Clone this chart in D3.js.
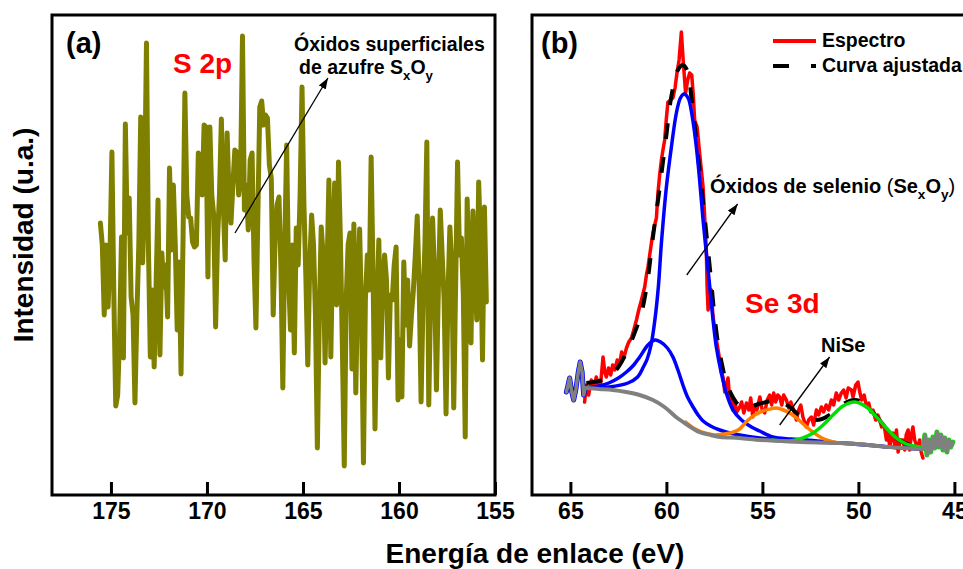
<!DOCTYPE html>
<html>
<head>
<meta charset="utf-8">
<script src="https://cdn.jsdelivr.net/npm/d3@7"></script>
<style>
  body { margin: 0; background: #fff; }
  text { font-family: "Liberation Sans", Arial, sans-serif; font-weight: bold; }
</style>
</head>
<body>
<svg id="chart" width="963" height="569"></svg>
<script>
// ---- data: (a) S 2p, constant energy step ----
var s2pStart = 175.55, s2pStep = 0.1;
var s2pCounts = [
  272,250,180,250,188,240,343,200,89,100,
  160,258,137,371,262,297,198,180,92,180,
  250,378,232,300,452,250,138,205,128,210,
  295,140,242,208,230,178,327,245,310,250,
  165,233,121,250,402,300,278,277,253,248,
  250,342,338,300,370,368,218,368,300,280,
  168,255,300,376,290,235,362,300,272,310,
  345,343,300,318,459,285,310,265,335,342,
  235,167,280,388,394,370,380,377,330,317,
  180,258,290,298,228,107,250,350,218,165,
  250,142,267,230,300,408,290,218,130,230,
  280,250,180,47,180,268,240,132,220,315,
  138,250,312,190,333,255,150,29,195,250,
  262,126,271,102,210,266,180,32,195,240,
  205,338,220,66,180,255,137,210,240,215,
  117,200,195,230,248,95,155,98,233,170,
  215,149,180,205,240,279,210,93,190,250,
  353,90,200,277,220,105,205,285,240,195,
  81,200,268,230,87,210,333,240,257,200,
  58,296,220,152,284,230,175,313,250,135,
  288,193
];
var s2pTicks = [175, 170, 165, 160, 155];

// ---- data: (b) Se 3d ----
var specE = [
  64.26,64.17,64.05,63.91,63.79,63.65,63.53,63.42,63.30,63.21,
  63.13,63.01,62.90,62.80,62.69,62.56,62.43,62.33,62.22,62.08,
  61.96,61.82,61.70,61.56,61.44,61.30,61.21,61.13,61.04,60.96,
  60.87,60.78,60.70,60.61,60.52,60.44,60.35,60.26,60.18,60.09,
  60.00,59.92,59.79,59.66,59.55,59.45,59.34,59.22,59.11,59.00,
  58.89,58.79,58.68,58.60,58.53,58.40,58.27,58.18,58.09,58.01,
  57.92,57.88,57.83,57.75,57.66,57.58,57.48,57.35,57.22,57.14,
  57.05,56.96,56.88,56.79,56.70,56.61,56.53,56.44,56.34,56.18,
  56.08,55.97,55.83,55.71,55.61,55.50,55.40,55.29,55.13,55.01,
  54.88,54.75,54.62,54.52,54.41,54.31,54.20,54.10,53.99,53.89,
  53.75,53.63,53.52,53.41,53.23,53.11,53.00,52.89,52.71,52.59,
  52.45,52.33,52.19,52.07,51.93,51.81,51.68,51.55,51.41,51.29,
  51.15,51.03,50.89,50.77,50.64,50.53,50.36,50.28,50.14,50.02,
  49.93,49.83,49.70,49.58,49.46,49.36,49.24,49.10,48.99,48.89,
  48.79,48.66,48.54,48.45,48.37,48.26,48.20,48.11,48.02,47.93,
  47.82,47.68,47.59,47.51,47.41,47.33,47.24,47.16,47.07,46.98,
  46.90,46.81,46.73,46.64
];
var specV = [
  93,110,100,115,107,118,108,112,138,123,
  118,127,120,130,125,135,132,143,137,147,
  153,157,165,175,185,195,202,208,220,228,
  240,252,262,270,277,302,320,335,345,355,
  377,393,395,397,407,422,435,463,430,402,
  415,422,420,400,375,368,342,325,308,280,
  245,208,185,200,205,180,165,150,135,123,
  118,103,110,117,95,100,85,95,83,88,
  93,82,92,85,97,78,90,85,98,85,
  82,95,100,90,102,93,100,98,90,100,
  95,87,93,87,75,85,90,78,68,75,
  78,70,85,80,88,83,90,85,95,90,
  102,95,102,105,97,107,105,98,110,113,
  103,95,100,88,92,83,85,75,80,75,
  68,70,55,63,48,60,62,50,65,43,
  55,55,45,60,65,45,60,68,55,50,
  48,55,43,37
];
// fitted envelope
var fitE = [64.17,63.5,63.0,62.5,62.0,61.6,61.3,61.0,60.7,60.4,60.2,60.0,59.8,59.6,59.4,59.15,58.9,58.7,58.5,58.3,58.1,57.9,57.7,57.5,57.3,57.1,56.9,56.6,56.3,56.0,55.6,55.2,54.8,54.3,53.9,53.5,53.1,52.7,52.3,51.9,51.5,51.0,50.6,50.2,49.8,49.4,49.0,48.6,48.2,47.8,47.3,46.65];
var fitV = [112,114,118,128,146,165,182,212,258,300,330,360,392,412,425,430,424,398,365,330,295,258,220,180,150,130,114,100,91,87,88,91,93,95,92,87,80,76,75,76,80,88,93,95,93,86,77,68,60,54,50,47];
// component 1 (main oxide peak)
var peak1E = [64.17,63.0,62.0,61.5,61.2,61.0,60.8,60.6,60.42,60.26,60.0,59.74,59.48,59.27,59.08,58.87,58.65,58.44,58.27,58.09,57.92,57.74,57.57,57.40,57.14,56.88,56.53,56.09,55.57,55.14,54.46,53.5,52.71,50.97,48.37,46.65];
var peak1V = [107,108,112,118,128,136,150,175,208,252,308,348,382,397,401,397,378,348,315,275,242,208,175,148,122,102,85,75,68,64,58,56,55,52,48,46];
// component 2 (shoulder)
var peak2E = [64.17,63.5,63.0,62.5,62.08,61.7,61.39,60.96,60.61,60.3,59.95,59.66,59.4,59.14,58.9,58.61,58.35,58.09,57.7,57.22,56.7,56.18,55.14,54.0,52.0,50.0,48.4,46.65];
var peak2V = [107,109,112,117,123,130,138,150,155,153,147,138,125,110,98,88,80,74,69,65,62,60,57,55,53,51,48,46];
// component 3 (NiSe, orange)
var peak3E = [59.0,58.5,58.0,57.5,57.0,56.5,56.18,55.8,55.4,55.0,54.6,54.27,53.9,53.5,53.1,52.7,52.3,51.9,51.5,51.0,50.0,49.0];
var peak3V = [73,66,62,60,61,63,66,74,80,84,86,87,85,81,75,68,62,57,54,52,51,49];
// component 4 (green)
var peak4E = [54.5,53.58,52.89,52.36,51.84,51.32,50.80,50.19,49.58,49.06,48.54,48.02,47.50,46.81,46.65];
var peak4V = [55,54,57,62,70,80,89,93,88,78,67,57,51,48,47];
// background and raw ends outside the fit window
var bgE = [64.17,63.5,62.8,62.1,61.4,60.7,60.1,59.5,58.9,58.3,57.7,57.2,56.2,55.1,54.0,53.0,51.0,49.5,48.4,46.65];
var bgV = [107,106,105,103,100,95,88,78,70,63,60,58,57,55,54,53,52,50,48,46];
var tailLeftE = [65.21,65.11,65.04,64.93,64.83,64.72,64.59,64.49,64.39,64.31,64.23,64.17];
var tailLeftV = [103,111,117,103,95,105,123,133,123,100,107,107];
var tailRightE = [46.65,46.54,46.43,46.33,46.23,46.12,46.02,45.91,45.81,45.70,45.60,45.50,45.39,45.29,45.19,45.08];
var tailRightV = [46,60,40,55,43,58,47,63,48,60,45,57,43,55,48,53];
var se3dTicks = [65, 60, 55, 50, 45];

function zip(e, v) {
  return e.map(function(d, i) { return [d, v[i]]; });
}

var svg = d3.select("#chart");
var defs = svg.append("defs");

defs.append("marker")
  .attr("id", "arrow")
  .attr("viewBox", "0 0 11 8")
  .attr("refX", 11)
  .attr("refY", 4)
  .attr("markerWidth", 11)
  .attr("markerHeight", 8)
  .attr("markerUnits", "userSpaceOnUse")
  .attr("orient", "auto")
  .append("path")
  .attr("d", "M0,0L11,4L0,8Z")
  .attr("fill", "#000");

var plotTop = 15, plotBottom = 495;
var y = d3.scaleLinear().domain([0, 480]).range([plotBottom, plotTop]);
var xA = d3.scaleLinear().domain([178.07, 155]).range([52, 495]);
var xB = d3.scaleLinear().domain([67, 44]).range([532, 973.6]);

function panel(id, x, ticks) {
  var r = x.range();
  defs.append("clipPath").attr("id", "clip-" + id)
    .append("rect")
    .attr("x", r[0]).attr("y", plotTop)
    .attr("width", r[1] - r[0]).attr("height", plotBottom - plotTop);

  var g = svg.append("g");
  var plot = g.append("g").attr("clip-path", "url(#clip-" + id + ")");

  var axis = g.append("g")
    .attr("transform", "translate(0," + plotBottom + ")")
    .call(d3.axisBottom(x).tickValues(ticks).tickSize(-13).tickSizeOuter(0).tickPadding(8).tickFormat(d3.format("d")));
  axis.select(".domain").remove();
  axis.selectAll(".tick line").attr("stroke", "#000").attr("stroke-width", 3);
  axis.selectAll(".tick text")
    .attr("font-size", 23)
    .attr("font-family", "'Liberation Sans', Arial, sans-serif")
    .attr("font-weight", "bold")
    .attr("fill", "#000");

  g.append("rect")
    .attr("x", r[0]).attr("y", plotTop)
    .attr("width", r[1] - r[0]).attr("height", plotBottom - plotTop)
    .attr("fill", "none").attr("stroke", "#000").attr("stroke-width", 3);

  return { g: g, plot: plot };
}

function drawLine(g, x, pts, color, width, curve, dash) {
  var line = d3.line()
    .x(function(d) { return x(d[0]); })
    .y(function(d) { return y(d[1]); })
    .curve(curve || d3.curveLinear);
  var p = g.append("path")
    .datum(pts)
    .attr("d", line)
    .attr("fill", "none")
    .attr("stroke", color)
    .attr("stroke-width", width)
    .attr("stroke-linejoin", "round")
    .attr("stroke-linecap", "round");
  if (dash) p.attr("stroke-dasharray", dash).attr("stroke-linecap", "butt");
  return p;
}

function richText(g, x0, y0, parts, size, color) {
  var t = g.append("text").attr("x", x0).attr("y", y0)
    .attr("font-size", size).attr("fill", color || "#000");
  var shift = 0;
  parts.forEach(function(p) {
    var s = p[1] ? 6 : 0;
    t.append("tspan")
      .attr("dy", s - shift)
      .attr("font-size", p[1] ? size * 0.68 : size)
      .attr("font-weight", p[2] ? "normal" : "bold")
      .text(p[0]);
    shift = s;
  });
  return t;
}

function arrow(g, x, from, to) {
  g.append("line")
    .attr("x1", x(from[0])).attr("y1", y(from[1]))
    .attr("x2", x(to[0])).attr("y2", y(to[1]))
    .attr("stroke", "#000").attr("stroke-width", 1.3)
    .attr("marker-end", "url(#arrow)");
}

// ---- panel (a) ----
var pa = panel("a", xA, s2pTicks);
var s2pPts = s2pCounts.map(function(v, i) { return [s2pStart - i * s2pStep, v]; });
drawLine(pa.plot, xA, s2pPts, "#808000", 5);

pa.g.append("text").attr("x", 66).attr("y", 53).attr("font-size", 29).text("(a)");
pa.g.append("text").attr("x", 173).attr("y", 73).attr("font-size", 28).attr("fill", "#ff0000").text("S 2p");
richText(pa.g, 294, 51, [["Óxidos superficiales"]], 19.5);
richText(pa.g, 299, 74, [["de azufre S"], ["x", 1], ["O"], ["y", 1]], 19.5);
arrow(pa.g, xA, [168.54, 262], [163.7, 417]);

// ---- panel (b) ----
var pb = panel("b", xB, se3dTicks);
drawLine(pb.plot, xB, zip(specE, specV), "#ff0000", 3.5);
drawLine(pb.plot, xB, zip(fitE, fitV), "#000", 4, d3.curveCatmullRom, "16,18");
drawLine(pb.plot, xB, zip(peak1E, peak1V), "#0000ff", 3.5, d3.curveCatmullRom);
drawLine(pb.plot, xB, zip(peak2E, peak2V), "#0000ff", 3.5, d3.curveCatmullRom);
drawLine(pb.plot, xB, zip(peak3E, peak3V), "#ff8000", 3.5, d3.curveCatmullRom);
drawLine(pb.plot, xB, zip(peak4E, peak4V), "#00e000", 3.5, d3.curveCatmullRom);
drawLine(pb.plot, xB, zip(tailLeftE, tailLeftV), "#0000ff", 5);
drawLine(pb.plot, xB, zip(tailRightE, tailRightV), "#00e000", 5);
drawLine(pb.plot, xB, zip(bgE, bgV), "#808080", 4, d3.curveCatmullRom);
drawLine(pb.plot, xB, zip(tailLeftE, tailLeftV), "#808080", 3.5);
drawLine(pb.plot, xB, zip(tailRightE, tailRightV), "#808080", 3.5);

pb.g.append("text").attr("x", 541).attr("y", 53).attr("font-size", 29).text("(b)");
pb.g.append("text").attr("x", 745).attr("y", 313).attr("font-size", 28).attr("fill", "#ff0000").text("Se 3d");
richText(pb.g, 710, 193, [["Óxidos de selenio "], ["(", 0, 1], ["Se"], ["x", 1], ["O"], ["y", 1], [")", 0, 1]], 20);
pb.g.append("text").attr("x", 821).attr("y", 352).attr("font-size", 20).text("NiSe");
arrow(pb.g, xB, [58.94, 220], [56.29, 291]);
arrow(pb.g, xB, [54.10, 70], [51.5, 138]);

// legend
var legend = pb.g.append("g").attr("transform", "translate(773,0)");
legend.append("line").attr("x1", 0).attr("x2", 43).attr("y1", 41).attr("y2", 41)
  .attr("stroke", "#ff0000").attr("stroke-width", 4);
legend.append("text").attr("x", 49).attr("y", 47).attr("font-size", 19.5).text("Espectro");
legend.append("line").attr("x1", 0).attr("x2", 43).attr("y1", 66).attr("y2", 66)
  .attr("stroke", "#000").attr("stroke-width", 4).attr("stroke-dasharray", "16,22");
legend.append("text").attr("x", 49).attr("y", 72).attr("font-size", 19.5).text("Curva ajustada");

// ---- axis titles ----
svg.append("text").attr("x", 535).attr("y", 563).attr("text-anchor", "middle")
  .attr("font-size", 28).text("Energía de enlace (eV)");
svg.append("text")
  .attr("transform", "translate(33,235) rotate(-90)")
  .attr("text-anchor", "middle")
  .attr("font-size", 28).text("Intensidad (u.a.)");
</script>
</body>
</html>
